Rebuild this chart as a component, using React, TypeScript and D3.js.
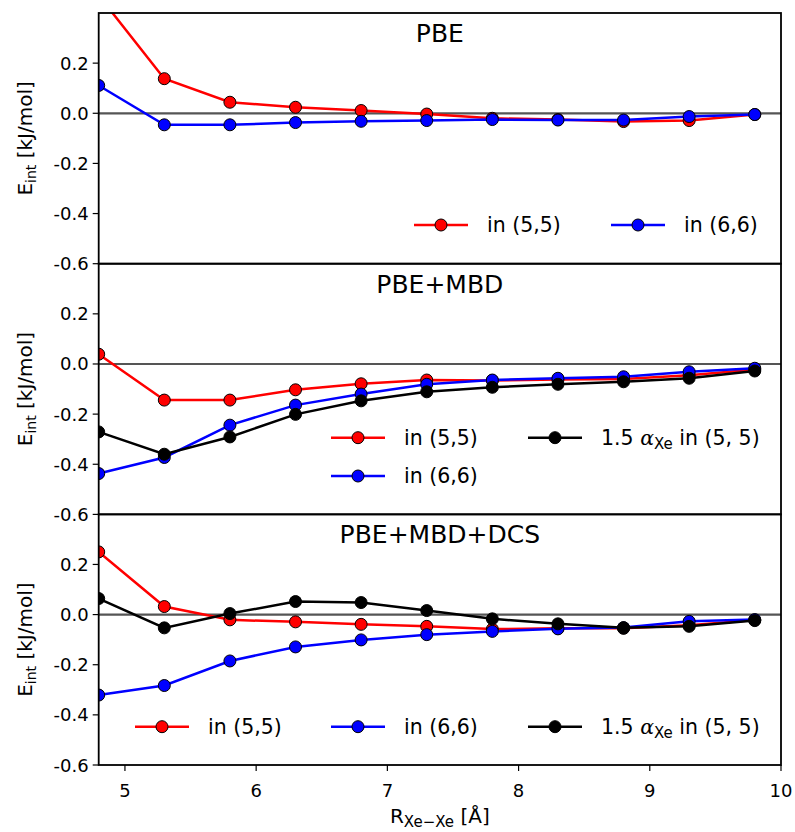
import React from "react";
import * as d3 from "d3";

const xs = [4.8, 5.3, 5.8, 6.3, 6.8, 7.3, 7.8, 8.3, 8.8, 9.3, 9.8];

const pbeRed = [0.47, 0.138, 0.044, 0.024, 0.011, -0.003, -0.02, -0.025, -0.033, -0.029, -0.005];
const pbeBlue = [0.111, -0.046, -0.046, -0.037, -0.032, -0.029, -0.025, -0.027, -0.027, -0.013, -0.005];

const mbdRed = [0.039, -0.144, -0.144, -0.103, -0.079, -0.064, -0.066, -0.062, -0.06, -0.045, -0.022];
const mbdBlue = [-0.437, -0.373, -0.244, -0.164, -0.12, -0.081, -0.064, -0.057, -0.051, -0.031, -0.017];
const mbdBlack = [-0.271, -0.36, -0.291, -0.201, -0.147, -0.111, -0.093, -0.081, -0.071, -0.057, -0.028];

const dcsRed = [0.25, 0.032, -0.021, -0.029, -0.039, -0.047, -0.058, -0.055, -0.055, -0.043, -0.022];
const dcsBlue = [-0.321, -0.283, -0.185, -0.129, -0.101, -0.08, -0.067, -0.057, -0.052, -0.027, -0.02];
const dcsBlack = [0.064, -0.053, 0.004, 0.052, 0.048, 0.016, -0.017, -0.037, -0.053, -0.047, -0.024];

const panelTitles = ["PBE", "PBE+MBD", "PBE+MBD+DCS"];
const yTicks = [-0.6, -0.4, -0.2, 0.0, 0.2];
const xTicks = [5, 6, 7, 8, 9, 10];

const W = 795;
const H = 832;
const left = 98.7;
const right = 781;
const tops = [13, 263.7, 514.3];
const ph = 250.7;
const FONT = "DejaVu Sans, sans-serif";

type Series = { values: number[]; color: string; key: string };
type LegendItem = { key: string; lx: number; ly: number };

const panels: { series: Series[]; legend: LegendItem[] }[] = [
  {
    series: [
      { values: pbeRed, color: "#ff0000", key: "r" },
      { values: pbeBlue, color: "#0000ff", key: "b" },
    ],
    legend: [
      { key: "r", lx: 414, ly: 225 },
      { key: "b", lx: 611, ly: 225 },
    ],
  },
  {
    series: [
      { values: mbdRed, color: "#ff0000", key: "r" },
      { values: mbdBlue, color: "#0000ff", key: "b" },
      { values: mbdBlack, color: "#000000", key: "k" },
    ],
    legend: [
      { key: "r", lx: 331, ly: 437.7 },
      { key: "b", lx: 331, ly: 476 },
      { key: "k", lx: 528, ly: 437.7 },
    ],
  },
  {
    series: [
      { values: dcsRed, color: "#ff0000", key: "r" },
      { values: dcsBlue, color: "#0000ff", key: "b" },
      { values: dcsBlack, color: "#000000", key: "k" },
    ],
    legend: [
      { key: "r", lx: 135, ly: 726.7 },
      { key: "b", lx: 331, ly: 726.7 },
      { key: "k", lx: 528, ly: 726.7 },
    ],
  },
];

const colorOf: Record<string, string> = { r: "#ff0000", b: "#0000ff", k: "#000000" };

function LegendLabel({ k, x, y }: { k: string; x: number; y: number }) {
  if (k === "r") return <text x={x} y={y} fontSize={20.5} fontFamily={FONT}>in (5,5)</text>;
  if (k === "b") return <text x={x} y={y} fontSize={20.5} fontFamily={FONT}>in (6,6)</text>;
  return (
    <text x={x} y={y} fontSize={20.5} fontFamily={FONT}>
      1.5{" "}
      <tspan fontFamily="DejaVu Serif, serif" fontStyle="italic">α</tspan>
      <tspan fontSize={15} dy={4}>Xe</tspan>
      <tspan dy={-4}> in (5, 5)</tspan>
    </text>
  );
}

export default function App() {
  const x = d3.scaleLinear().domain([4.8, 10]).range([left, right]);
  const fmt = d3.format(".1f");
  return (
    <div style={{ position: "absolute", left: 0, top: 0 }}>
      <svg width={W} height={H} style={{ display: "block", background: "#fff" }}>
        <defs>
          {tops.map((t, i) => (
            <clipPath id={`clip${i}`} key={i}>
              <rect x={left} y={t} width={right - left} height={ph} />
            </clipPath>
          ))}
        </defs>
        {panels.map((p, i) => {
          const t = tops[i];
          const y = d3.scaleLinear().domain([-0.6, 0.4]).range([t + ph, t]);
          const line = d3
            .line<number>()
            .x((_, j) => x(xs[j]))
            .y((v) => y(v));
          return (
            <g key={i}>
              <line x1={left} x2={right} y1={y(0)} y2={y(0)} stroke="#555" strokeWidth={2.2} />
              <g clipPath={`url(#clip${i})`}>
                {p.series.map((s) => (
                  <g key={s.key}>
                    <path d={line(s.values) || ""} fill="none" stroke={s.color} strokeWidth={2.5} />
                    {s.values.map((v, j) => (
                      <circle key={j} cx={x(xs[j])} cy={y(v)} r={6} fill={s.color} stroke="#000" strokeWidth={1} />
                    ))}
                  </g>
                ))}
              </g>
              <rect x={left} y={t} width={right - left} height={ph} fill="none" stroke="#000" strokeWidth={1.8} />
              {yTicks.map((v) => (
                <g key={v}>
                  <line x1={left - 6} x2={left} y1={y(v)} y2={y(v)} stroke="#000" strokeWidth={1.2} />
                  <text x={left - 10} y={y(v) + 6.5} textAnchor="end" fontSize={18} fontFamily={FONT}>
                    {fmt(v).replace("−", "-")}
                  </text>
                </g>
              ))}
              <text x={(left + right) / 2} y={t + 29} textAnchor="middle" fontSize={25} fontFamily={FONT}>
                {panelTitles[i]}
              </text>
              <text
                transform={`translate(${32},${t + ph / 2}) rotate(-90)`}
                textAnchor="middle"
                fontSize={20}
                fontFamily={FONT}
              >
                E<tspan fontSize={14} dy={4}>int</tspan>
                <tspan dy={-4}> [kJ/mol]</tspan>
              </text>
              {p.legend.map((l) => (
                <g key={l.key}>
                  <line x1={l.lx} x2={l.lx + 54} y1={l.ly} y2={l.ly} stroke={colorOf[l.key]} strokeWidth={2.5} />
                  <circle cx={l.lx + 27} cy={l.ly} r={6} fill={colorOf[l.key]} stroke="#000" strokeWidth={1} />
                  <LegendLabel k={l.key} x={l.lx + 73} y={l.ly + 7} />
                </g>
              ))}
            </g>
          );
        })}
        {xTicks.map((v) => (
          <g key={v}>
            <line x1={x(v)} x2={x(v)} y1={tops[2] + ph} y2={tops[2] + ph + 6} stroke="#000" strokeWidth={1.2} />
            <text x={x(v)} y={797} textAnchor="middle" fontSize={18} fontFamily={FONT}>
              {v}
            </text>
          </g>
        ))}
        <text x={(left + right) / 2} y={823} textAnchor="middle" fontSize={20} fontFamily={FONT}>
          R<tspan fontSize={15} dy={4}>Xe−Xe</tspan>
          <tspan dy={-4}> [Å]</tspan>
        </text>
      </svg>
    </div>
  );
}
